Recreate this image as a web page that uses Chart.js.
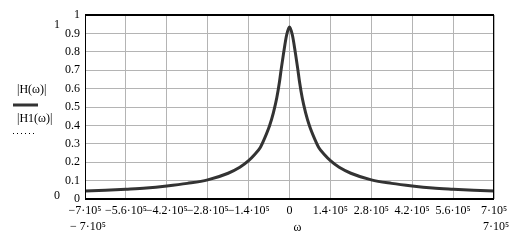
<!DOCTYPE html>
<html>
<head>
<meta charset="utf-8">
<script src="https://cdn.jsdelivr.net/npm/chart.js@4/dist/chart.umd.min.js"></script>
<style>
  html, body { margin: 0; padding: 0; background: #fff; }
  #wrap { width: 526px; height: 241px; }
</style>
</head>
<body>
<div id="wrap"><canvas id="myChart"></canvas></div>
<script>
// omega values (rad/s) and |H(omega)|
var omega = [-700000, -630000, -560000, -490000, -420000, -350000, -280000, -210000,
  -170000, -140000, -120000, -100000, -88000, -68000, -55000, -43500, -34000, -28000,
  -20500, -10000, 0, 10000, 20500, 28000, 34000, 43500, 55000, 68000, 88000, 100000,
  120000, 140000, 170000, 210000, 280000, 350000, 420000, 490000, 560000, 630000, 700000];
var absH = [0.043, 0.047, 0.053, 0.06, 0.071, 0.085, 0.104, 0.14,
  0.172, 0.208, 0.24, 0.28, 0.32, 0.4, 0.47, 0.55, 0.64, 0.71,
  0.79, 0.89, 0.935, 0.89, 0.79, 0.71, 0.64, 0.55, 0.47, 0.4, 0.32, 0.28,
  0.24, 0.208, 0.172, 0.14, 0.104, 0.085, 0.071, 0.06, 0.053, 0.047, 0.043];

var xMin = -700000, xMax = 700000, xStep = 140000;
var yMin = 0, yMax = 1, yStep = 0.1;

var serif = '"Liberation Serif", "Times New Roman", serif';

function xLabel(v) {
  if (Math.abs(v) < 1) return "0";
  var m = Math.round(Math.abs(v) / 1e4) / 10;
  return (v < 0 ? "\u2212" : "") + m + "\u00B710\u2075";
}

// Mathcad style extras: frame, legend text on the left, axis limits, omega
var extras = {
  id: "extras",
  afterDraw: function(chart) {
    var ctx = chart.ctx, a = chart.chartArea, x = chart.scales.x;
    ctx.save();
    ctx.strokeStyle = "#000";
    ctx.lineWidth = 1;
    ctx.strokeRect(a.left + 0.5, a.top + 0.5, a.right - a.left - 1, a.bottom - a.top - 1);
    ctx.lineWidth = 2;
    ctx.beginPath();
    ctx.moveTo(a.left, a.top); ctx.lineTo(a.right, a.top);
    ctx.moveTo(a.left, a.bottom); ctx.lineTo(a.right, a.bottom);
    ctx.stroke();

    ctx.fillStyle = "#000";
    ctx.font = "12px " + serif;
    ctx.textBaseline = "middle";
    ctx.textAlign = "center";
    ctx.fillText("1", 57, 25);
    ctx.fillText("0", 57, 196);
    ctx.fillText("\u2212 7\u00B710\u2075", x.getPixelForValue(xMin) + 3, 227);
    ctx.fillText("\u03C9", x.getPixelForValue(0) + 8, 228);
    ctx.fillText("7\u00B710\u2075", x.getPixelForValue(xMax) + 2, 227);

    ctx.textAlign = "left";
    ctx.fillText("|H(\u03C9)|", 17, 90);
    ctx.fillText("|H1(\u03C9)|", 17, 119);

    ctx.strokeStyle = "#333";
    ctx.lineWidth = 3;
    ctx.beginPath();
    ctx.moveTo(13, 105); ctx.lineTo(38, 105);
    ctx.stroke();

    ctx.strokeStyle = "#000";
    ctx.lineWidth = 1;
    ctx.setLineDash([1, 3]);
    ctx.beginPath();
    ctx.moveTo(13, 133.5); ctx.lineTo(34, 133.5);
    ctx.stroke();
    ctx.restore();
  }
};

new Chart("myChart", {
  type: "line",
  data: {
    datasets: [{
      label: "|H(\u03C9)|",
      data: omega.map(function(w, i) { return {x: w, y: absH[i]}; }),
      borderColor: "#333",
      borderWidth: 3,
      pointRadius: 0,
      fill: false,
      cubicInterpolationMode: "monotone"
    }]
  },
  options: {
    responsive: true,
    maintainAspectRatio: false,
    animation: false,
    layout: {padding: {top: 15, right: 32, left: 0, bottom: 0}},
    plugins: {legend: {display: false}, tooltip: {enabled: false}},
    scales: {
      x: {
        type: "linear",
        min: xMin, max: xMax,
        afterFit: function(s) { s.height = 42; },
        grid: {color: "#b4b4b4", drawTicks: false},
        border: {display: false},
        ticks: {
          stepSize: xStep, autoSkip: false, maxRotation: 0, padding: 5,
          color: "#000", font: {family: serif, size: 12},
          callback: function(v) { return xLabel(v); }
        }
      },
      y: {
        min: yMin, max: yMax,
        afterFit: function(s) { s.width = 85; },
        grid: {color: "#b4b4b4", drawTicks: false},
        border: {display: false},
        ticks: {
          stepSize: yStep, padding: 5,
          color: "#000", font: {family: serif, size: 12},
          callback: function(v) { return String(Math.round(v * 10) / 10); }
        }
      }
    }
  },
  plugins: [extras]
});
</script>
</body>
</html>
